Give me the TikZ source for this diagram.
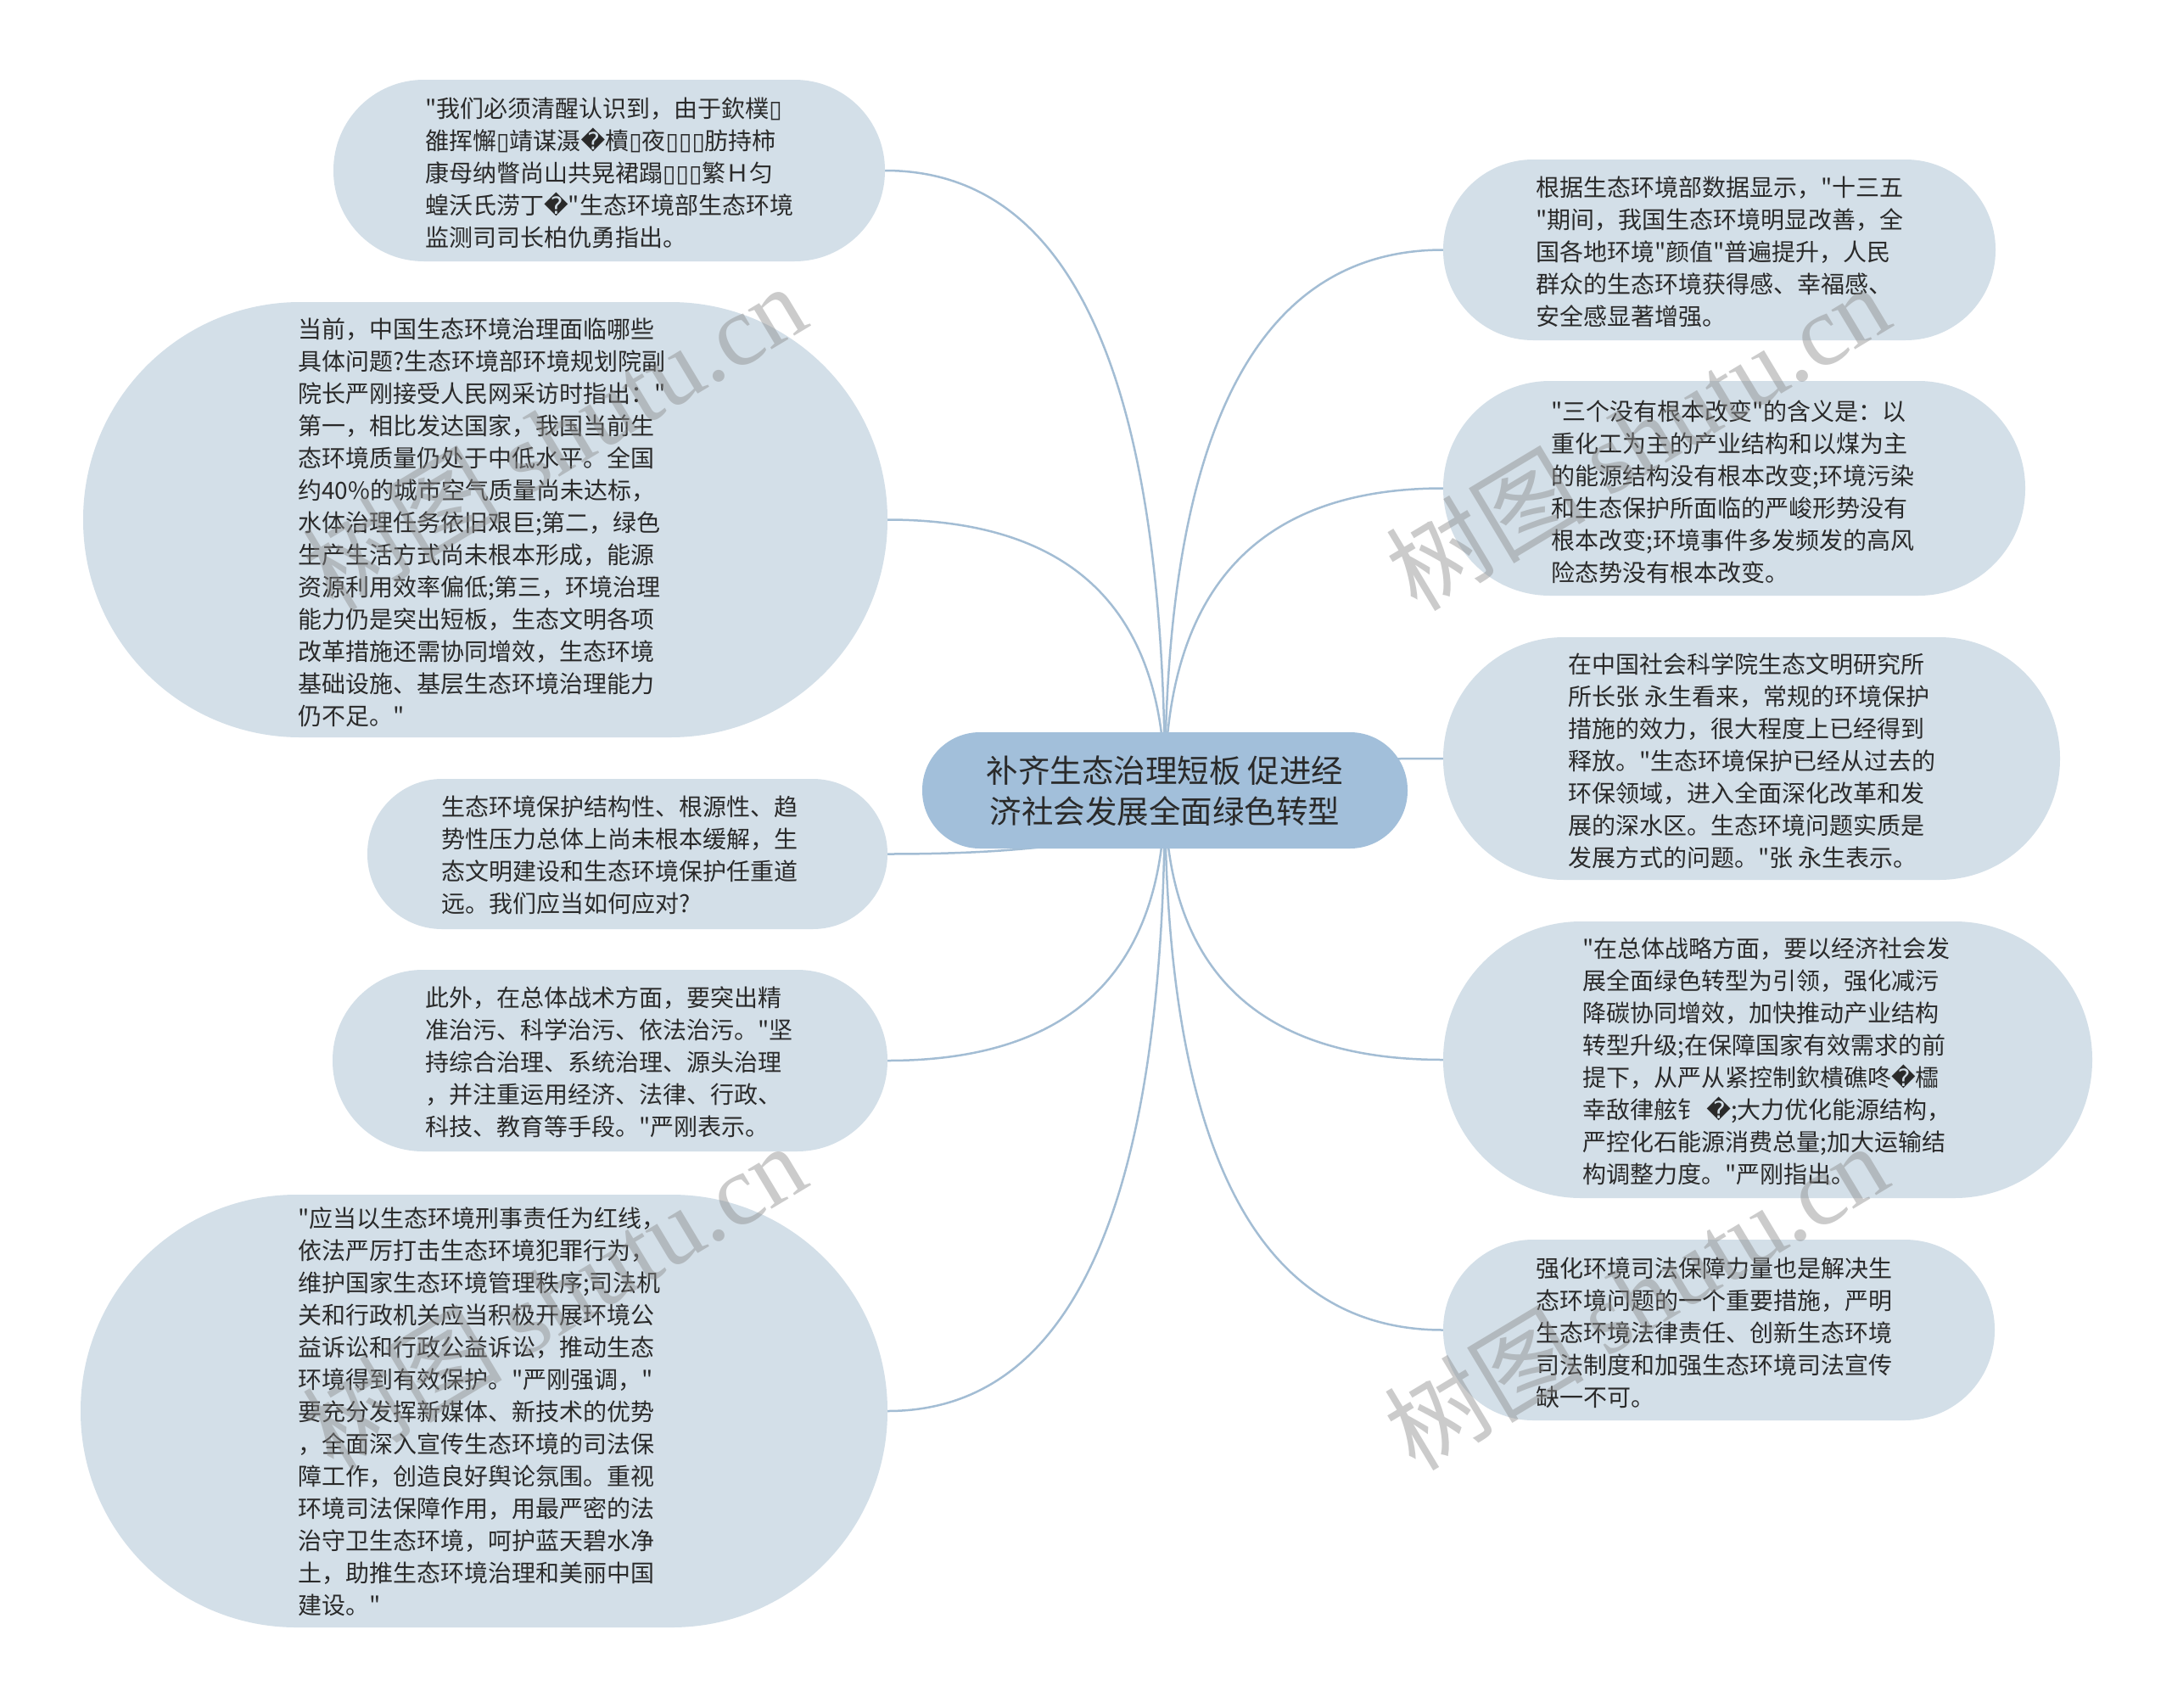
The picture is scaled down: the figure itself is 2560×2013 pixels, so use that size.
\documentclass[tikz,border=0pt]{standalone}
\usepackage{fontspec}
\newfontfamily\cjkfont{Noto Sans CJK SC}
\newfontfamily\dvfont{DejaVu Sans}
\newfontfamily\wmserif{Liberation Serif}
\usetikzlibrary{backgrounds,calc}
\definecolor{bub}{HTML}{D3DFE8}
\definecolor{ctrc}{HTML}{A2BFDA}
\definecolor{lnc}{HTML}{A3BDD4}
\definecolor{txt}{HTML}{2A2A2A}
\newcommand\tofu{{\dvfont ▯}}
\newcommand\repch{{\dvfont �}}
\begin{document}
\begin{tikzpicture}[x=1pt,y=-1pt,
  bubble/.style={rectangle, fill=bub, draw=none, inner sep=0pt},
  body/.style={anchor=west, inner sep=0pt, align=left, text=txt, font=\cjkfont\fontsize{28}{38}\selectfont},
  conn/.style={draw=lnc, line width=2.5pt},
  wm/.style={rotate=31, text=black!45, opacity=0.45, inner sep=0pt, font=\fontsize{118}{118}\selectfont}]
\useasboundingbox (0,0) rectangle (2560,2013);

% centre
\node[bubble, fill=ctrc, minimum width=572pt, minimum height=137pt, rounded corners=68pt] (C) at (1373,931.5) {};
\node[anchor=center, align=center, inner sep=0pt, text=txt, font=\cjkfont\fontsize{37.5}{48}\selectfont] (tC) at (1373,932.5) {补齐生态治理短板 促进经\\济社会发展全面绿色转型};

% left side
\node[bubble, minimum width=650pt, minimum height=214pt, rounded corners=106.5pt] (L1) at (718,201) {};
\node[body] (tL1) at (501,204) {"我们必须清醒认识到，由于欽樸\tofu\\雒挥懈\tofu 靖谋滠\repch 櫝\tofu 夜\tofu\tofu\tofu 肪持柿\\康母纳瞥尚山共晃裙蹋\tofu\tofu\tofu 繁Ｈ匀\\蝗沃氏涝丁\repch"生态环境部生态环境\\监测司司长柏仇勇指出。};

\node[bubble, minimum width=948pt, minimum height=513pt, rounded corners=256pt] (L2) at (572,612.5) {};
\node[body] (tL2) at (351,616) {当前，中国生态环境治理面临哪些\\具体问题?生态环境部环境规划院副\\院长严刚接受人民网采访时指出："\\第一，相比发达国家，我国当前生\\态环境质量仍处于中低水平。全国\\约40\%的城市空气质量尚未达标，\\水体治理任务依旧艰巨;第二，绿色\\生产生活方式尚未根本形成，能源\\资源利用效率偏低;第三，环境治理\\能力仍是突出短板，生态文明各项\\改革措施还需协同增效，生态环境\\基础设施、基层生态环境治理能力\\仍不足。"};

\node[bubble, minimum width=613pt, minimum height=177pt, rounded corners=88pt] (L3) at (739.5,1006.5) {};
\node[body] (tL3) at (520,1008) {生态环境保护结构性、根源性、趋\\势性压力总体上尚未根本缓解，生\\态文明建设和生态环境保护任重道\\远。我们应当如何应对?};

\node[bubble, minimum width=654pt, minimum height=214pt, rounded corners=106.5pt] (L4) at (719,1250) {};
\node[body] (tL4) at (501,1252) {此外，在总体战术方面，要突出精\\准治污、科学治污、依法治污。"坚\\持综合治理、系统治理、源头治理\\，并注重运用经济、法律、行政、\\科技、教育等手段。"严刚表示。};

\node[bubble, minimum width=951pt, minimum height=510pt, rounded corners=254.5pt] (L5) at (570.5,1663) {};
\node[body] (tL5) at (351,1664) {"应当以生态环境刑事责任为红线，\\依法严厉打击生态环境犯罪行为，\\维护国家生态环境管理秩序;司法机\\关和行政机关应当积极开展环境公\\益诉讼和行政公益诉讼，推动生态\\环境得到有效保护。"严刚强调，"\\要充分发挥新媒体、新技术的优势\\，全面深入宣传生态环境的司法保\\障工作，创造良好舆论氛围。重视\\环境司法保障作用，用最严密的法\\治守卫生态环境，呵护蓝天碧水净\\土，助推生态环境治理和美丽中国\\建设。"};

% right side
\node[bubble, minimum width=651pt, minimum height=213pt, rounded corners=106pt] (R1) at (2026.5,294.5) {};
\node[body] (tR1) at (1810,297) {根据生态环境部数据显示，"十三五\\"期间，我国生态环境明显改善，全\\国各地环境"颜值"普遍提升，人民\\群众的生态环境获得感、幸福感、\\安全感显著增强。};

\node[bubble, minimum width=686pt, minimum height=253pt, rounded corners=126pt] (R2) at (2044,575.5) {};
\node[body] (tR2) at (1828,580) {"三个没有根本改变"的含义是：以\\重化工为主的产业结构和以煤为主\\的能源结构没有根本改变;环境污染\\和生态保护所面临的严峻形势没有\\根本改变;环境事件多发频发的高风\\险态势没有根本改变。};

\node[bubble, minimum width=727pt, minimum height=286pt, rounded corners=142.5pt] (R3) at (2064.5,894) {};
\node[body] (tR3) at (1848,896.5) {在中国社会科学院生态文明研究所\\所长张 永生看来，常规的环境保护\\措施的效力，很大程度上已经得到\\释放。"生态环境保护已经从过去的\\环保领域，进入全面深化改革和发\\展的深水区。生态环境问题实质是\\发展方式的问题。"张 永生表示。};

\node[bubble, minimum width=765pt, minimum height=326pt, rounded corners=162.5pt] (R4) at (2083.5,1249) {};
\node[body] (tR4) at (1865,1251) {"在总体战略方面，要以经济社会发\\展全面绿色转型为引领，强化减污\\降碳协同增效，加快推动产业结构\\转型升级;在保障国家有效需求的前\\提下，从严从紧控制欽樻礁咚\repch 櫺\\幸敌律舷钅 \repch;大力优化能源结构，\\严控化石能源消费总量;加大运输结\\构调整力度。"严刚指出。};

\node[bubble, minimum width=650pt, minimum height=213pt, rounded corners=106pt] (R5) at (2026,1567.5) {};
\node[body] (tR5) at (1810,1571) {强化环境司法保障力量也是解决生\\态环境问题的一个重要措施，严明\\生态环境法律责任、创新生态环境\\司法制度和加强生态环境司法宣传\\缺一不可。};

% connectors
\begin{pgfonlayer}{background}
\fill[white] (0,0) rectangle (2560,2013);
\foreach \n/\a in {L1/east,L2/east,L3/east,L4/east,L5/east,R1/west,R2/west,R3/west,R4/west,R5/west}{
  \coordinate (k\n) at (C.center |- \n.\a);
  \draw[conn] (C.center) .. controls ($(C.center)!0.6667!(k\n)$) and ($(\n.\a)!0.6667!(k\n)$) .. (\n.\a);
}
\end{pgfonlayer}

% watermarks
\node[wm] (wm1) at (653,514) {\cjkfont 树图 {\wmserif shutu.cn}};
\node[wm] (wm2) at (1930,514) {\cjkfont 树图 {\wmserif shutu.cn}};
\node[wm] (wm3) at (653,1527) {\cjkfont 树图 {\wmserif shutu.cn}};
\node[wm] (wm4) at (1928,1527) {\cjkfont 树图 {\wmserif shutu.cn}};
\end{tikzpicture}
\end{document}
